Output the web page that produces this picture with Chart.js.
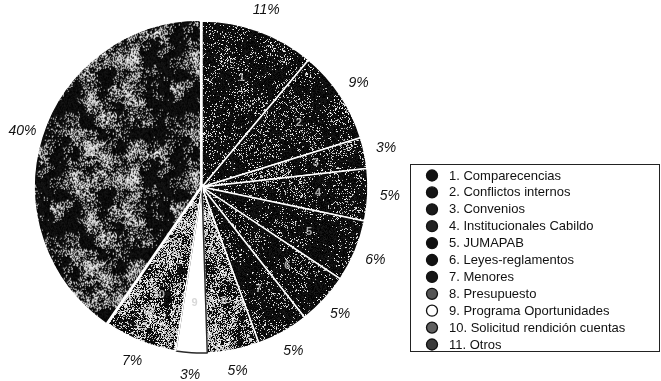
<!DOCTYPE html>
<html>
<head>
<meta charset="utf-8">
<script src="https://cdn.jsdelivr.net/npm/chart.js@4/dist/chart.umd.min.js"></script>
<style>
  html, body { margin: 0; padding: 0; background: #fff; }
  #c { display: block; }
</style>
</head>
<body>
<canvas id="c" width="661" height="381"></canvas>
<script>
// Topics of the sessions and their share of the total (%)
const categories = [
  '1. Comparecencias',
  '2. Conflictos internos',
  '3. Convenios',
  '4. Institucionales Cabildo',
  '5. JUMAPAB',
  '6. Leyes-reglamentos',
  '7. Menores',
  '8. Presupuesto',
  '9. Programa Oportunidades',
  '10. Solicitud rendición cuentas',
  '11. Otros'
];
const shares = [11, 9, 3, 5, 6, 5, 5, 5, 3, 7, 40];
const sliceNumbers = ['1', '2', '3', '4', '5', '6', '7', '8', '9', '10', '11'];
const percentLabels = shares.map(v => v + '%');

// ---- stippled fills (deterministic hash noise, tileable) ----
const TILE = 120;
function hash(x, y, s) {
  let h = (Math.imul(x, 374761393) + Math.imul(y, 668265263) + Math.imul(s, 1442695041)) | 0;
  h = Math.imul(h ^ (h >>> 13), 1274126177);
  h ^= h >>> 16;
  return (h >>> 0) / 4294967296;
}
function valueNoise(x, y, cell, s) {
  const n = TILE / cell;
  const gx = Math.floor(x / cell), gy = Math.floor(y / cell);
  const fx = x / cell - gx, fy = y / cell - gy;
  const u = fx * fx * (3 - 2 * fx), v = fy * fy * (3 - 2 * fy);
  const x0 = gx % n, x1 = (gx + 1) % n, y0 = gy % n, y1 = (gy + 1) % n;
  const a = hash(x0, y0, s), b = hash(x1, y0, s), c = hash(x0, y1, s), d = hash(x1, y1, s);
  return a + (b - a) * u + (c - a) * v + (a - b - c + d) * u * v;
}
// density: mean share of light dots; swing: how strongly they cluster
function stipple(density, swing, seed) {
  const cv = document.createElement('canvas');
  cv.width = TILE; cv.height = TILE;
  const g = cv.getContext('2d');
  const img = g.createImageData(TILE, TILE);
  for (let y = 0; y < TILE; y++) {
    for (let x = 0; x < TILE; x++) {
      const m = 0.6 * valueNoise(x, y, 15, seed) + 0.4 * valueNoise(x, y, 6, seed + 3);
      const p = Math.max(0, Math.min(1, density * (1 + swing * (m - 0.5) * 4)));
      const r = hash(x, y, seed + 17);
      let c;
      if (r < p) c = 150 + Math.round(105 * hash(x, y, seed + 29));
      else c = Math.round(25 * hash(x, y, seed + 41));
      const i = (y * TILE + x) * 4;
      img.data[i] = c; img.data[i + 1] = c; img.data[i + 2] = c; img.data[i + 3] = 255;
    }
  }
  g.putImageData(img, 0, 0);
  return document.getElementById('c').getContext('2d').createPattern(cv, 'repeat');
}

const fills = [
  stipple(0.13, 0.9, 1),
  stipple(0.14, 0.9, 2),
  stipple(0.18, 0.9, 3),
  stipple(0.14, 0.9, 4),
  stipple(0.10, 0.9, 5),
  stipple(0.10, 0.9, 6),
  stipple(0.12, 0.9, 7),
  stipple(0.42, 0.8, 8),
  '#ffffff',
  stipple(0.50, 0.7, 10),
  stipple(0.26, 1.5, 11)
];
const legendFills = ['#111', '#151515', '#1a1a1a', '#222', '#0e0e0e', '#121212', '#161616', '#555', '#ffffff', '#606060', '#3a3a3a'];
const borders = shares.map((_, i) => (i === 8 ? '#2a2a2a' : '#ffffff'));
const offsets = shares.map((_, i) => (i === 10 ? 5 : 0));

// ---- labels: percentages outside, slice numbers inside ----
const sliceLabels = {
  id: 'sliceLabels',
  afterDatasetsDraw(chart) {
    const ctx = chart.ctx;
    const meta = chart.getDatasetMeta(0);
    ctx.save();
    meta.data.forEach((arc, i) => {
      const mid = (arc.startAngle + arc.endAngle) / 2;
      const R = arc.outerRadius;
      ctx.textAlign = 'center';
      ctx.textBaseline = 'middle';
      // number inside the slice
      ctx.font = 'bold 11px "Liberation Sans", Arial, sans-serif';
      ctx.fillStyle = i === 8 ? 'rgba(190,190,190,0.6)' : 'rgba(235,235,235,0.7)';
      ctx.fillText(sliceNumbers[i], arc.x + Math.cos(mid) * R * 0.7, arc.y + Math.sin(mid) * R * 0.7);
      // percentage outside
      ctx.font = 'italic 14px "Liberation Sans", Arial, sans-serif';
      ctx.fillStyle = '#111';
      const r = R + 22;
      ctx.fillText(percentLabels[i], arc.x + Math.cos(mid) * r, arc.y + Math.sin(mid) * r);
    });
    ctx.restore();
  }
};

// ---- boxed legend on the right ----
const boxedLegend = {
  id: 'boxedLegend',
  afterDraw(chart) {
    const ctx = chart.ctx;
    const items = chart.options.plugins.legend.labels.generateLabels(chart);
    const bx = 410.5, by = 164.5, bw = 249, bh = 187;
    ctx.save();
    ctx.strokeStyle = '#222';
    ctx.lineWidth = 1;
    ctx.strokeRect(bx, by, bw, bh);
    ctx.font = '13px "Liberation Sans", Arial, sans-serif';
    ctx.textBaseline = 'middle';
    ctx.textAlign = 'left';
    items.forEach((it, i) => {
      const y = 175.5 + i * 16.9;
      ctx.beginPath();
      ctx.arc(432, y, 5.5, 0, Math.PI * 2);
      ctx.fillStyle = legendFills[i];
      ctx.fill();
      ctx.lineWidth = 1.3;
      ctx.strokeStyle = '#111';
      ctx.stroke();
      ctx.fillStyle = '#111';
      ctx.fillText(it.text, 449, y + 0.5);
    });
    ctx.restore();
  }
};

new Chart(document.getElementById('c'), {
  type: 'pie',
  data: {
    labels: categories,
    datasets: [{
      data: shares,
      backgroundColor: fills,
      borderColor: borders,
      borderWidth: 1.5,
      offset: offsets,
      radius: 166
    }]
  },
  options: {
    responsive: false,
    animation: false,
    events: [],
    layout: { padding: { left: 0, right: 257, top: 0, bottom: 7 } },
    plugins: {
      legend: { display: false },
      tooltip: { enabled: false }
    }
  },
  plugins: [sliceLabels, boxedLegend]
});
</script>
</body>
</html>
